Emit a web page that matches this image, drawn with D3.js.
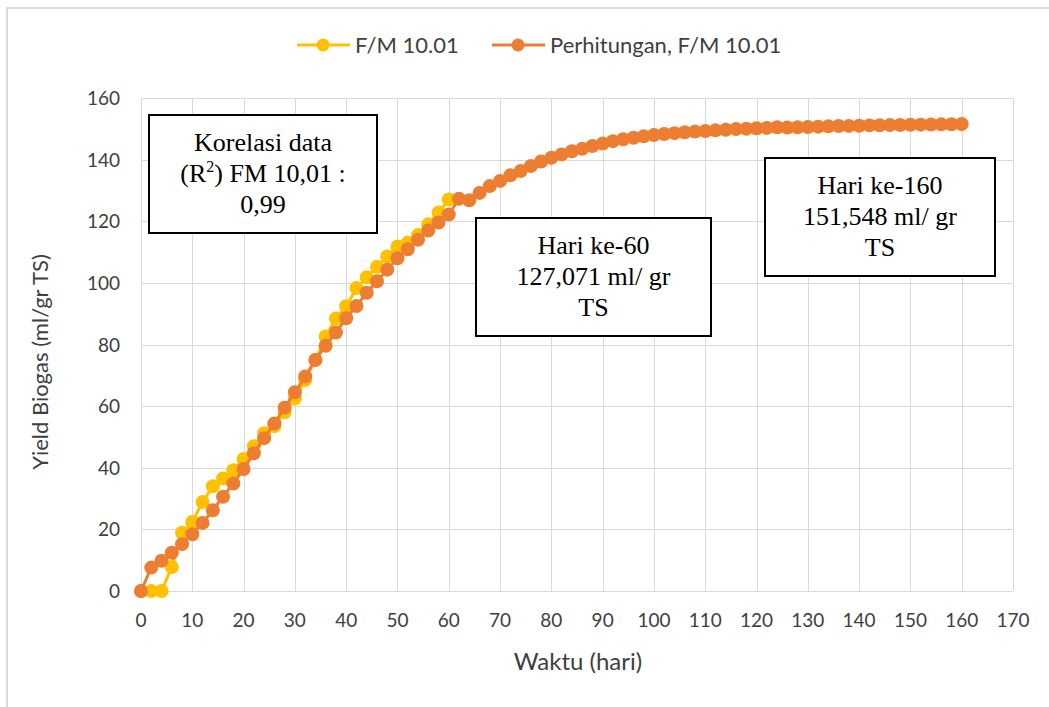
<!DOCTYPE html>
<meta charset="utf-8">
<style>
    body { margin: 0; background: #fff; }
    .grid line { stroke: #d9d9d9; stroke-width: 1; }
    .tick-label { font: 19px Lato, "Open Sans", sans-serif; fill: #404040; }
    .legend-label { font: 22px Lato, "Open Sans", sans-serif; fill: #404040; }
    .note text { font: 26px "Liberation Serif", "Times New Roman", serif; fill: #000; }
</style>
<svg width="1049" height="707"></svg>
<script src="https://d3js.org/d3.v7.min.js"></script>
<script>
    // data
    var fmDays = d3.range(0, 61, 2);
    var fmValues = [0, 0, 0, 7.8, 18.9, 22.4, 28.9, 34, 36.5, 39.2, 42.8, 47, 51.2, 53.5, 58,
        62.5, 68.5, 75, 82.6, 88.4, 92.4, 98.3, 101.8, 105.2, 108.6, 111.8, 113, 115.5, 119, 122.8, 127.071];

    var calcDays = d3.range(0, 161, 2);
    var calcValues = [0, 7.6, 9.8, 12.4, 15.2, 18.4, 22.1, 26.2, 30.6, 34.9, 39.6, 44.7, 49.6, 54.4, 59.5,
        64.5, 69.6, 75, 79.6, 83.9, 88.5, 92.5, 96.8, 100.5, 104.3, 108, 110.9, 114, 117, 119.6, 122.2,
        127.3, 126.8, 129.2, 131.4, 133.1, 134.9, 136.3, 137.9, 139.4, 140.6, 141.7, 142.7, 143.5, 144.4,
        145.2, 146, 146.6, 147.1, 147.6, 148, 148.3, 148.6, 148.9, 149.1, 149.3, 149.5, 149.7, 149.9,
        150, 150.2, 150.3, 150.5, 150.4, 150.5, 150.6, 150.7, 150.8, 150.9, 150.95, 151, 151.1, 151.15,
        151.2, 151.25, 151.3, 151.35, 151.4, 151.45, 151.5, 151.548];

    var xTicks = d3.range(0, 171, 10);
    var yTicks = d3.range(0, 161, 20);

    var seriesNames = ["F/M 10.01", "Perhitungan, F/M 10.01"];
    var seriesColors = ["#FFC000", "#ED7D31"];

    var notes = [
        { x: 149, y: 115, w: 228, h: 118, lines: ["Korelasi data", "(R2) FM 10,01 :", "0,99"] },
        { x: 476, y: 218, w: 235, h: 118, lines: ["Hari ke-60", "127,071 ml/ gr", "TS"] },
        { x: 765, y: 158, w: 230, h: 118, lines: ["Hari ke-160", "151,548 ml/ gr", "TS"] }
    ];

    var svg = d3.select("svg");

    // outer frame (only left + top visible in the picture)
    svg.append("path")
        .attr("d", "M7,707 L7,8 L1049,8")
        .attr("fill", "none")
        .attr("stroke", "#d9d9d9")
        .attr("stroke-width", 2);

    var x = d3.scaleLinear().domain([0, 170]).range([141, 1013]);
    var y = d3.scaleLinear().domain([0, 160]).range([591, 98]);

    var grid = svg.append("g").attr("class", "grid");
    grid.selectAll(".v").data(xTicks).enter().append("line")
        .attr("x1", function(d) { return Math.round(x(d)) + 0.5; })
        .attr("x2", function(d) { return Math.round(x(d)) + 0.5; })
        .attr("y1", y(0)).attr("y2", y(160));
    grid.selectAll(".h").data(yTicks).enter().append("line")
        .attr("y1", function(d) { return Math.round(y(d)) + 0.5; })
        .attr("y2", function(d) { return Math.round(y(d)) + 0.5; })
        .attr("x1", x(0)).attr("x2", x(170));

    svg.append("g").selectAll("text").data(xTicks).enter().append("text")
        .attr("class", "tick-label")
        .attr("x", function(d) { return x(d); })
        .attr("y", 627)
        .attr("text-anchor", "middle")
        .text(function(d) { return d; });

    svg.append("g").selectAll("text").data(yTicks).enter().append("text")
        .attr("class", "tick-label")
        .attr("x", 120)
        .attr("y", function(d) { return y(d) + 7; })
        .attr("text-anchor", "end")
        .text(function(d) { return d; });

    svg.append("text")
        .attr("class", "tick-label")
        .style("font-size", "22px")
        .attr("transform", "translate(48,362) rotate(-90)")
        .attr("text-anchor", "middle")
        .text("Yield Biogas (ml/gr TS)");

    svg.append("text")
        .attr("class", "tick-label")
        .style("font-size", "24px")
        .attr("x", 578).attr("y", 670)
        .attr("text-anchor", "middle")
        .text("Waktu (hari)");

    var line = d3.line()
        .x(function(d) { return x(d[0]); })
        .y(function(d) { return y(d[1]); });

    function drawSeries(days, values, color) {
        var pts = days.map(function(d, i) { return [d, values[i]]; });
        var g = svg.append("g");
        g.append("path")
            .datum(pts)
            .attr("d", line)
            .attr("fill", "none")
            .attr("stroke", color)
            .attr("stroke-width", 3);
        g.selectAll("circle").data(pts).enter().append("circle")
            .attr("cx", function(d) { return x(d[0]); })
            .attr("cy", function(d) { return y(d[1]); })
            .attr("r", 7)
            .attr("fill", color);
    }
    drawSeries(fmDays, fmValues, seriesColors[0]);
    drawSeries(calcDays, calcValues, seriesColors[1]);

    // legend
    var legendX = [297, 492];
    seriesNames.forEach(function(name, i) {
        var lg = svg.append("g").attr("transform", "translate(" + legendX[i] + ",45)");
        lg.append("line").attr("x1", 0).attr("x2", 53).attr("y1", 0).attr("y2", 0)
            .attr("stroke", seriesColors[i]).attr("stroke-width", 3);
        lg.append("circle").attr("cx", 26).attr("r", 6.5).attr("fill", seriesColors[i]);
        lg.append("text").attr("class", "legend-label").attr("x", 58).attr("y", 8).text(name);
    });

    // annotation boxes
    var note = svg.append("g").attr("class", "note").selectAll("g").data(notes).enter().append("g");
    note.append("rect")
        .attr("x", function(d) { return d.x; })
        .attr("y", function(d) { return d.y; })
        .attr("width", function(d) { return d.w; })
        .attr("height", function(d) { return d.h; })
        .attr("fill", "#fff")
        .attr("stroke", "#000")
        .attr("stroke-width", 2);
    note.each(function(d) {
        var g = d3.select(this);
        d.lines.forEach(function(t, i) {
            var tx = g.append("text")
                .attr("x", d.x + d.w / 2)
                .attr("y", d.y + 36 + i * 31)
                .attr("text-anchor", "middle");
            if (t.indexOf("(R2)") === 0) {
                tx.append("tspan").text("(R");
                tx.append("tspan").attr("dy", -10).attr("font-size", 16).text("2");
                tx.append("tspan").attr("dy", 10).text(") FM 10,01 :");
            } else {
                tx.text(t);
            }
        });
    });
</script>
